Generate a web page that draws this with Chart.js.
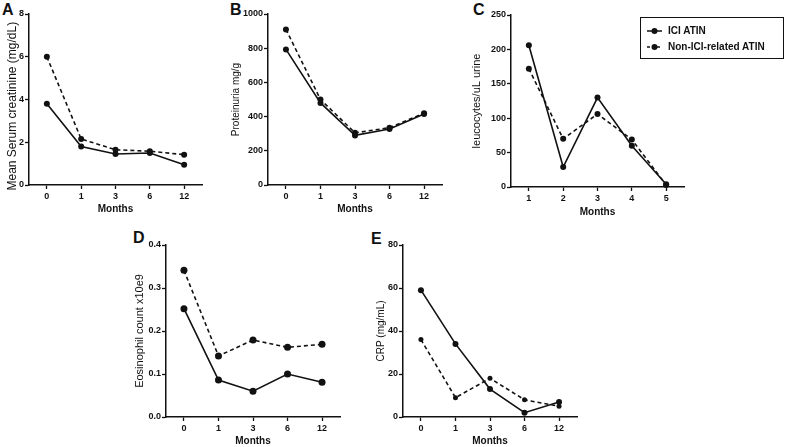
<!DOCTYPE html>
<html><head><meta charset="utf-8">
<script src="https://cdn.jsdelivr.net/npm/chart.js@4/dist/chart.umd.min.js"></script>
<style>
body{margin:0;background:#fff;width:790px;height:447px;overflow:hidden;position:relative;font-family:"Liberation Sans",Arial,sans-serif;}
canvas{position:absolute;}
.lbl{position:absolute;font-weight:bold;font-size:16px;line-height:16px;color:#111;}
#legend{position:absolute;left:640px;top:17px;width:142px;height:40px;border:1.5px solid #111;}
.item{position:absolute;left:0;height:12px;}
.item svg{position:absolute;left:5px;top:0;}
.item span{position:absolute;left:27px;top:-1px;font-weight:bold;font-size:10px;line-height:14px;white-space:nowrap;color:#111;}
</style></head><body>
<div class="lbl" style="left:2px;top:2px">A</div>
<div class="lbl" style="left:230px;top:2px">B</div>
<div class="lbl" style="left:473px;top:2px">C</div>
<div class="lbl" style="left:133px;top:230px">D</div>
<div class="lbl" style="left:371px;top:231px">E</div>
<canvas id="cA"></canvas><canvas id="cB"></canvas><canvas id="cC"></canvas><canvas id="cD"></canvas><canvas id="cE"></canvas>
<div id="legend"></div>
<script>
// ---- data ----
const seriesNames = ['ICI ATIN', 'Non-ICI-related ATIN'];
const months = ['0', '1', '3', '6', '12'];
const monthsC = ['1', '2', '3', '4', '5'];

const creatIci = [3.8, 1.8, 1.45, 1.5, 0.95];
const creatNon = [6.0, 2.15, 1.65, 1.58, 1.42];

const protIci = [793, 480, 290, 328, 415];
const protNon = [910, 500, 305, 335, 420];

const leucoIci = [206, 29, 130, 60, 4];
const leucoNon = [172, 70, 106, 69, 3];

const eosIci = [0.252, 0.086, 0.060, 0.100, 0.081];
const eosNon = [0.341, 0.142, 0.179, 0.162, 0.169];

const crpIci = [59, 34, 13, 2, 7];
const crpNon = [36, 9, 18, 8, 5];

// ---- panels ----
const INK = '#111';
const panels = [
  {id:'cA', left:5, top:0, w:201, h:215, axisX:29, plotTop:14, axisY:185, cats:months, ici:creatIci, non:creatNon,
   ymax:8, step:2, title:'Mean Serum creatinine (mg/dL)    ', tsize:12, r:3, rn:3},
  {id:'cB', left:230, top:0, w:216, h:215, axisX:268, plotTop:14, axisY:185, cats:months, ici:protIci, non:protNon,
   ymax:1000, step:200, title:'Proteinuria mg/g', tsize:10, r:3, rn:3},
  {id:'cC', left:470, top:0, w:218, h:218, axisX:511, plotTop:15, axisY:187, cats:monthsC, ici:leucoIci, non:leucoNon,
   ymax:250, step:50, title:'leucocytes/uL urine', tsize:11, r:3, rn:3},
  {id:'cD', left:133, top:220, w:211, h:227, axisX:166, plotTop:25, axisY:197, cats:months, ici:eosIci, non:eosNon,
   ymax:0.4, step:0.1, title:'Eosinophil count x10e9', tsize:11, r:3.5, rn:3.5, fix:1},
  {id:'cE', left:375, top:220, w:206, h:227, axisX:403, plotTop:25, axisY:197, cats:months, ici:crpIci, non:crpNon,
   ymax:80, step:20, title:'CRP (mg/mL)', tsize:10, r:3, rn:2.5}
];

const tickFont = {family:'"Liberation Sans", Arial, sans-serif', size:9, weight:'bold'};

panels.forEach(p => {
  const cv = document.getElementById(p.id);
  cv.style.left = p.left + 'px'; cv.style.top = p.top + 'px';
  cv.style.width = p.w + 'px'; cv.style.height = p.h + 'px';
  cv.width = p.w; cv.height = p.h;
  const yW = p.axisX - p.left;
  const xH = p.h - p.axisY;
  const cats = p.cats;
  new Chart(cv, {
    type: 'line',
    data: {
      datasets: [
        {label: seriesNames[0], data: p.ici.map((v,i)=>({x:i, y:v})), borderColor:INK, backgroundColor:INK,
         borderWidth:1.6, pointRadius:p.r, pointBorderWidth:0, pointHoverRadius:p.r, clip:false, tension:0},
        {label: seriesNames[1], data: p.non.map((v,i)=>({x:i, y:v})), borderColor:INK, backgroundColor:INK,
         borderWidth:1.6, borderDash:[4,3], pointRadius:p.rn, pointBorderWidth:0, pointHoverRadius:p.rn, clip:false, tension:0}
      ]
    },
    options: {
      responsive:false, animation:false, devicePixelRatio:1,
      layout:{autoPadding:false, padding:{top:p.plotTop, right:4, left:0, bottom:0}},
      plugins:{legend:{display:false}, tooltip:{enabled:false}},
      scales:{
        x:{type:'linear', min:-0.52, max:4.52,
           afterBuildTicks: s => { s.ticks = cats.map((_,i)=>({value:i})); },
           afterFit: s => { s.height = xH; },
           ticks:{callback: v => cats[v], autoSkip:false, maxRotation:0, font:tickFont, color:INK, padding:2},
           grid:{drawOnChartArea:false, drawTicks:true, tickLength:4, tickColor:INK, tickWidth:1.3},
           border:{display:true, color:INK, width:1.5},
           title:{display:true, text:'Months', color:INK, padding:0,
                  font:{family:'"Liberation Sans", Arial, sans-serif', size:10, weight:'bold'}}},
        y:{min:0, max:p.ymax,
           afterFit: s => { s.width = yW; },
           ticks:{stepSize:p.step, font:tickFont, color:INK, padding:1,
                  callback: v => p.fix ? Number(v).toFixed(p.fix) : v},
           grid:{drawOnChartArea:false, drawTicks:true, tickLength:4, tickColor:INK, tickWidth:1.3},
           border:{display:true, color:INK, width:1.5},
           title:{display:true, text:p.title, color:INK, padding:0,
                  font:{family:'"Liberation Sans", Arial, sans-serif', size:p.tsize, weight:'normal'}}}
      }
    }
  });
});

// ---- legend (panel C) ----
const lg = document.getElementById('legend');
seriesNames.forEach((name, i) => {
  const it = document.createElement('div');
  it.className = 'item';
  it.style.top = (i === 0 ? 7 : 23) + 'px';
  const dash = i === 0 ? '' : 'stroke-dasharray="3,2"';
  it.innerHTML = '<svg width="18" height="12"><line x1="1" y1="6" x2="16" y2="6" stroke="#111" stroke-width="1.5" ' + dash +
    '/><circle cx="8.5" cy="6" r="3" fill="#111"/></svg><span></span>';
  it.querySelector('span').textContent = name;
  lg.appendChild(it);
});
</script>
</body></html>
